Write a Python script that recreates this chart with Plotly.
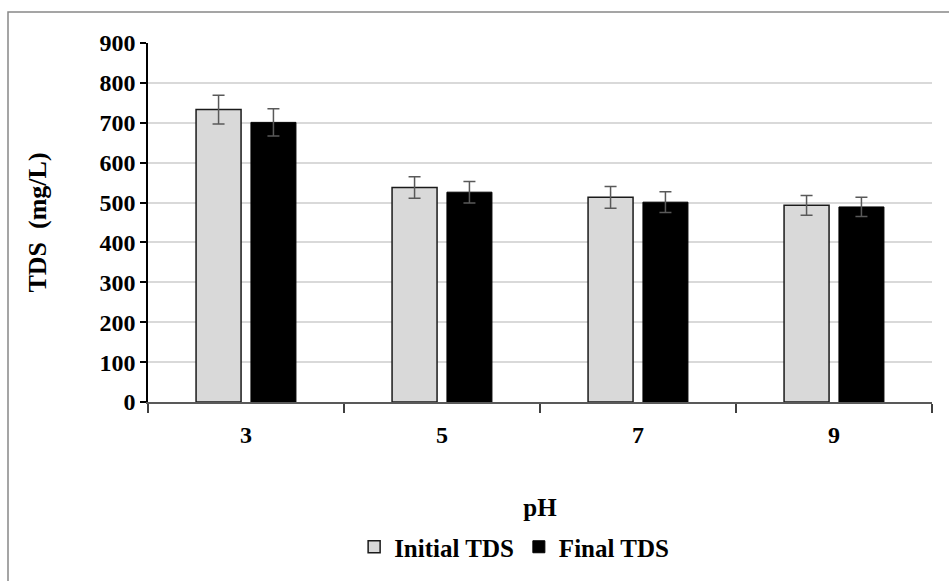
import plotly.graph_objects as go

# pH levels tested and measured total dissolved solids (mg/L)
ph_levels = ["3", "5", "7", "9"]
initial_tds = [733, 538, 513, 493]
final_tds = [701, 526, 501, 489]
initial_err = [36, 27, 27, 25]
final_err = [34, 27, 26, 24]

font_family = "Liberation Serif"
err_color = "#595959"

fig = go.Figure()
fig.add_trace(go.Bar(
    name="Initial TDS", x=ph_levels, y=initial_tds,
    marker=dict(color="#d9d9d9", line=dict(color="#1a1a1a", width=1.5)),
    error_y=dict(type="data", array=initial_err, color=err_color, thickness=1.5, width=6),
))
fig.add_trace(go.Bar(
    name="Final TDS", x=ph_levels, y=final_tds,
    marker=dict(color="#000000", line=dict(color="#000000", width=1)),
    error_y=dict(type="data", array=final_err, color=err_color, thickness=1.5, width=6),
))

fig.update_layout(
    width=949, height=581,
    margin=dict(l=148, r=17, t=43, b=178),
    paper_bgcolor="white", plot_bgcolor="white",
    barmode="group", bargap=0.44, bargroupgap=0.18,
    font=dict(family=font_family, size=24, color="#000000"),
    showlegend=True,
    legend=dict(orientation="h", x=0.467, xanchor="center", y=-0.40, yanchor="middle",
                font=dict(family=font_family, size=25, color="#000000", weight="bold"),
                itemwidth=30, tracegroupgap=0, bgcolor="rgba(0,0,0,0)"),
)

fig.update_xaxes(
    type="category", tickson="boundaries", ticks="outside", ticklen=9, tickwidth=1.5,
    tickcolor="#404040", showline=True, linecolor="#595959", linewidth=2,
    showgrid=False, ticklabelstandoff=10,
    tickfont=dict(family=font_family, size=24, weight="bold"),
    title=dict(text="pH", font=dict(family=font_family, size=25, weight="bold"), standoff=52),
)
fig.update_yaxes(
    range=[0, 900], dtick=100, ticks="outside", ticklen=6, tickwidth=1.5, tickcolor="#000000",
    showline=True, linecolor="#000000", linewidth=1.5,
    showgrid=True, gridcolor="#d9d9d9", gridwidth=1.5, zeroline=False,
    tickfont=dict(family=font_family, size=24, weight="bold"),
    title=dict(text="TDS  (mg/L)", font=dict(family=font_family, size=26, weight="bold"), standoff=45),
)

# outer chart frame
fig.add_shape(type="rect", xref="paper", yref="paper",
              x0=(8 - 148) / 784, x1=(960 - 148) / 784,
              y0=(403 - 600) / 360, y1=(403 - 12) / 360,
              line=dict(color="#888888", width=1.5), fillcolor="rgba(0,0,0,0)", layer="below")

fig.write_html("out.html")
